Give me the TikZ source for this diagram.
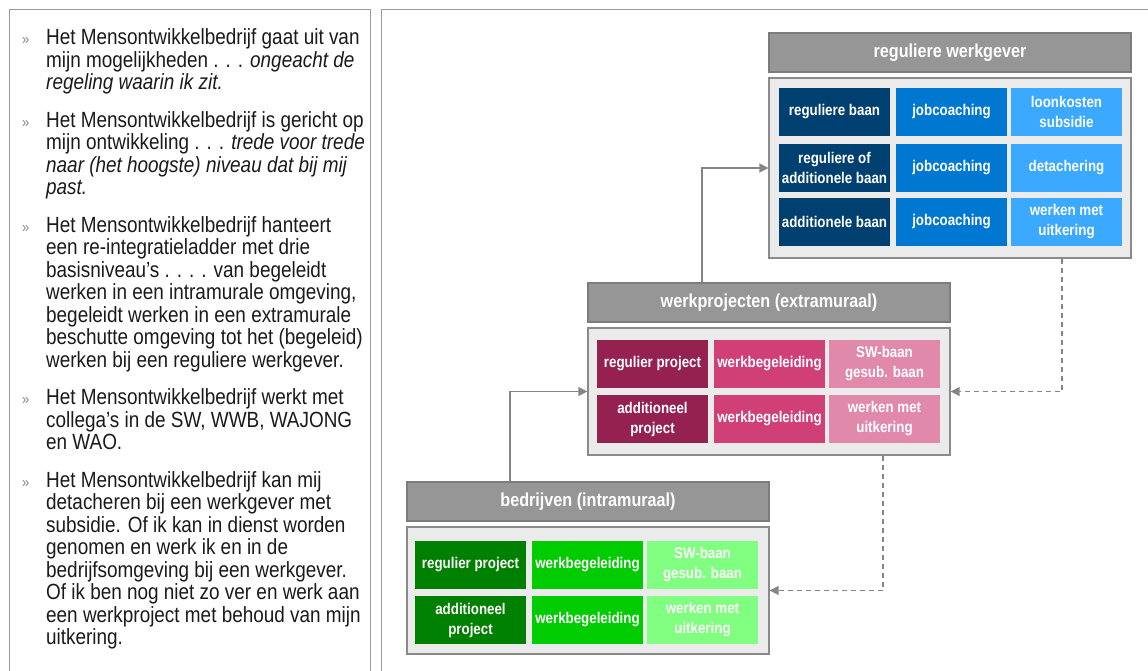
\documentclass[tikz,border=0pt]{standalone}
\usepackage{fontspec}
\setmainfont{Liberation Sans}[FakeStretch=0.86]
\usetikzlibrary{arrows.meta}

\definecolor{framegray}{HTML}{9A9A9A}
\definecolor{headfill}{HTML}{969696}
\definecolor{headline}{HTML}{7C7C7C}
\definecolor{bodyfill}{HTML}{EBEBEB}
\definecolor{bodyline}{HTML}{8A8A8A}
\definecolor{arrowgray}{HTML}{858585}
\definecolor{txtdark}{HTML}{1A1A1A}
% reguliere werkgever
\definecolor{rwdark}{HTML}{004070}
\definecolor{rwmid}{HTML}{0078D2}
\definecolor{rwlight}{HTML}{3AA9FF}
% werkprojecten
\definecolor{wpdark}{HTML}{94214F}
\definecolor{wpmid}{HTML}{D04077}
\definecolor{wplight}{HTML}{E089AA}
% bedrijven
\definecolor{bddark}{HTML}{008000}
\definecolor{bdmid}{HTML}{00CC00}
\definecolor{bdlight}{HTML}{80FF80}

\tikzset{
  frame/.style={draw=framegray, line width=1.3pt},
  head/.style={draw=headline, fill=headfill, line width=1.3pt, minimum width=362pt,
    minimum height=39pt, inner sep=0pt, text=white,
    font=\fontsize{18.8}{22}\selectfont\bfseries},
  body/.style={draw=bodyline, fill=bodyfill, line width=1.3pt, minimum width=362pt,
    inner sep=0pt},
  cell/.style={minimum width=111pt, minimum height=48pt, inner sep=0pt, text=white,
    align=center, font=\fontsize{15.5}{20}\selectfont\bfseries},
  conn/.style={draw=arrowgray, line width=1.5pt, -{Triangle[length=9pt,width=9pt]}},
  back/.style={conn, dash pattern=on 5pt off 4pt},
  bullettext/.style={anchor=north west, inner sep=0pt, align=left, text=txtdark,
    font=\fontsize{22}{22.5}\selectfont},
  bulletmark/.style={anchor=base west, inner sep=0pt, text=arrowgray,
    font=\fontsize{15}{18}\selectfont},
}

\begin{document}
\begin{tikzpicture}[x=1pt,y=-1pt]
\useasboundingbox (0,0) rectangle (1148,670);
\draw[frame] (9.5,9.5) rectangle (370.5,700);
\draw[frame] (381.5,9.5) rectangle (1170,700);

% left text (top of each block = first baseline - 16)
\node[bulletmark] (m1) at (22,44.5) {»};
\node[bullettext] (t1) at (46,28.5) {Het Mensontwikkelbedrijf gaat uit van\\
  mijn mogelijkheden . . . \textit{ongeacht de}\\
  \textit{regeling waarin ik zit.}};
\node[bulletmark] (m2) at (22,127) {»};
\node[bullettext] (t2) at (46,111) {Het Mensontwikkelbedrijf is gericht op\\
  mijn ontwikkeling . . . \textit{trede voor trede}\\
  \textit{naar (het hoogste) niveau dat bij mij}\\
  \textit{past.}};
\node[bulletmark] (m3) at (22,232) {»};
\node[bullettext] (t3) at (46,216) {Het Mensontwikkelbedrijf hanteert\\
  een re-integratieladder met drie\\
  basisniveau’s . . . . van begeleidt\\
  werken in een intramurale omgeving,\\
  begeleidt werken in een extramurale\\
  beschutte omgeving tot het (begeleid)\\
  werken bij een reguliere werkgever.};
\node[bulletmark] (m4) at (22,404.5) {»};
\node[bullettext] (t4) at (46,388.5) {Het Mensontwikkelbedrijf werkt met\\
  collega’s in de SW, WWB, WAJONG\\
  en WAO.};
\node[bulletmark] (m5) at (22,487) {»};
\node[bullettext] (t5) at (46,471) {Het Mensontwikkelbedrijf kan mij\\
  detacheren bij een werkgever met\\
  subsidie. Of ik kan in dienst worden\\
  genomen en werk ik en in de\\
  bedrijfsomgeving bij een werkgever.\\
  Of ik ben nog niet zo ver en werk aan\\
  een werkproject met behoud van mijn\\
  uitkering.};

% reguliere werkgever
\node[head] (rwhead) at (950,52.5) {reguliere werkgever};
\node[body, minimum height=180pt] (rwbody) at (950,168) {};
\node[cell, fill=rwdark] (rw11) at (834.5,112) {reguliere baan};
\node[cell, fill=rwmid] (rw12) at (951.5,112) {jobcoaching};
\node[cell, fill=rwlight] (rw13) at (1066.5,112) {loonkosten\\subsidie};
\node[cell, fill=rwdark] (rw21) at (834.5,168) {reguliere of\\additionele baan};
\node[cell, fill=rwmid] (rw22) at (951.5,168) {jobcoaching};
\node[cell, fill=rwlight] (rw23) at (1066.5,168) {detachering};
\node[cell, fill=rwdark] (rw31) at (834.5,222) {additionele baan};
\node[cell, fill=rwmid] (rw32) at (951.5,222) {jobcoaching};
\node[cell, fill=rwlight] (rw33) at (1066.5,222) {werken met\\uitkering};

% werkprojecten
\node[head] (wphead) at (769,302.5) {werkprojecten (extramuraal)};
\node[body, minimum height=127pt] (wpbody) at (769,391.5) {};
\node[cell, fill=wpdark] (wp11) at (652.5,364) {regulier project};
\node[cell, fill=wpmid] (wp12) at (769.5,364) {werkbegeleiding};
\node[cell, fill=wplight] (wp13) at (884.5,364) {SW-baan\\gesub. baan};
\node[cell, fill=wpdark] (wp21) at (652.5,419) {additioneel\\project};
\node[cell, fill=wpmid] (wp22) at (769.5,419) {werkbegeleiding};
\node[cell, fill=wplight] (wp23) at (884.5,419) {werken met\\uitkering};

% bedrijven
\node[head] (bdhead) at (588,501.5) {bedrijven (intramuraal)};
\node[body, minimum height=127pt] (bdbody) at (588,590.5) {};
\node[cell, fill=bddark] (bd11) at (470.5,565) {regulier project};
\node[cell, fill=bdmid] (bd12) at (587.5,565) {werkbegeleiding};
\node[cell, fill=bdlight] (bd13) at (702.5,565) {SW-baan\\gesub. baan};
\node[cell, fill=bddark] (bd21) at (470.5,620) {additioneel\\project};
\node[cell, fill=bdmid] (bd22) at (587.5,620) {werkbegeleiding};
\node[cell, fill=bdlight] (bd23) at (702.5,620) {werken met\\uitkering};

% connectors
\draw[conn] ([xshift=-78pt]bdhead.north) |- (wpbody.west);
\draw[conn] ([xshift=-67pt]wphead.north) |- (rwbody.west);
\draw[back] ([xshift=112pt]rwbody.south) |- (wpbody.east);
\draw[back] ([xshift=114pt]wpbody.south) |- (bdbody.east);
\end{tikzpicture}
\end{document}
